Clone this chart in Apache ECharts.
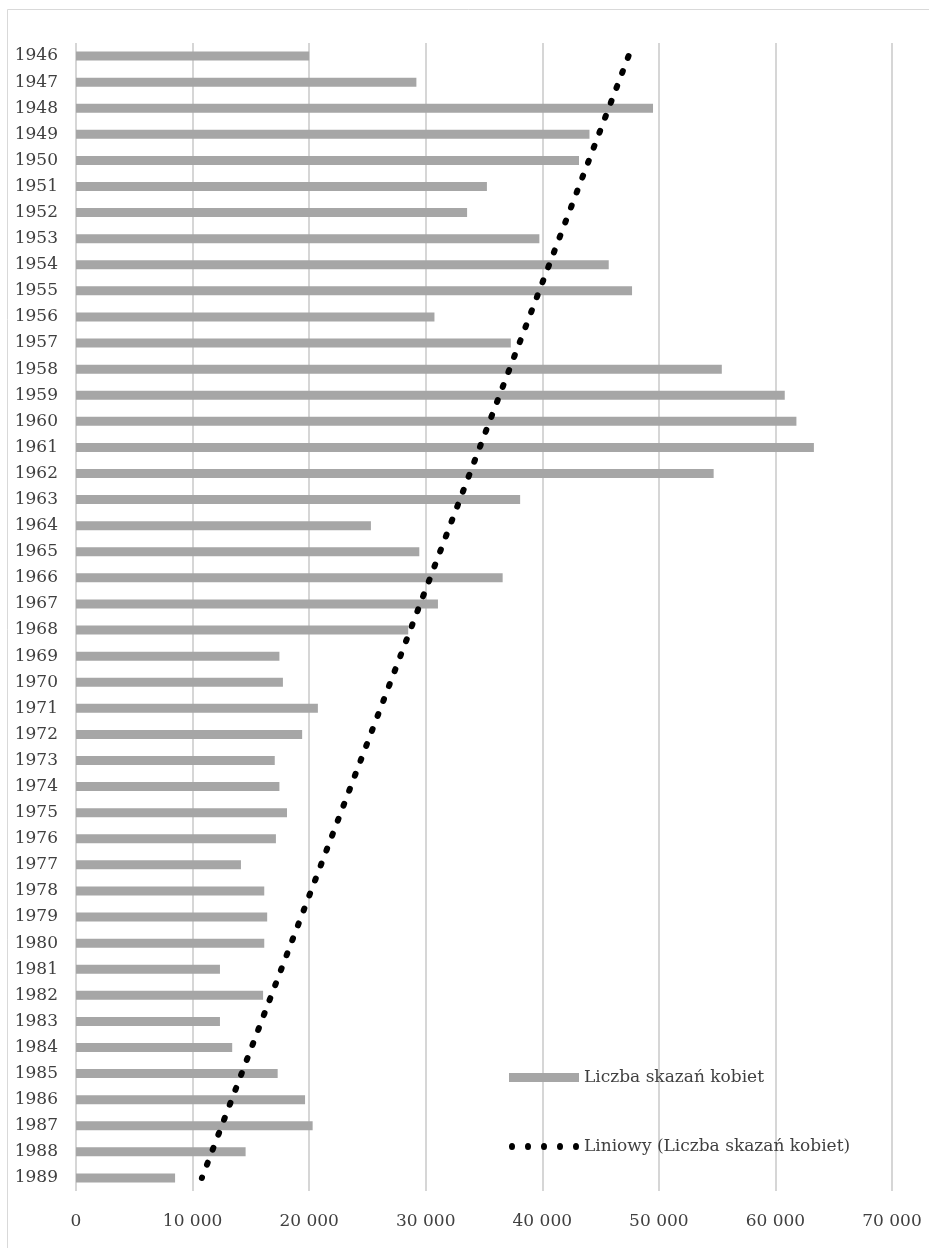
<!DOCTYPE html>
<html><head><meta charset="utf-8">
<script src="https://cdn.jsdelivr.net/npm/echarts@6/dist/echarts.min.js"></script>
<style>html,body{margin:0;padding:0;background:#fff}#c{width:929px;height:1248px}</style>
</head><body><div id="c"></div>
<script>
const years = ['1946','1947','1948','1949','1950','1951','1952','1953','1954','1955','1956','1957','1958','1959','1960','1961','1962','1963','1964','1965','1966','1967','1968','1969','1970','1971','1972','1973','1974','1975','1976','1977','1978','1979','1980','1981','1982','1983','1984','1985','1986','1987','1988','1989'];
const convictions = [20000,29200,49500,44050,43150,35250,33550,39750,45700,47700,30750,37300,55400,60800,61800,63300,54700,38100,25300,29450,36600,31050,28500,17450,17750,20750,19400,17050,17450,18100,17150,14150,16150,16400,16150,12350,16050,12350,13400,17300,19650,20300,14550,8500];
const trendYears = ['1946','1989'];
const trendValues = [47400,10800];
const xTicks = [0,10000,20000,30000,40000,50000,60000,70000];
const seriesNames = ['Liczba skazań kobiet','Liniowy (Liczba skazań kobiet)'];

const FONT = 'DejaVu Serif';
const TXT = '#404040';
const trendData = years.map(y => { const i = trendYears.indexOf(y); return i >= 0 ? trendValues[i] : null; });
const fmt = v => String(v).replace(/\B(?=(\d{3})+(?!\d))/g, ' ');

// legend icons (box 70 x 9)
function ell(cx, cy, rx, ry) {
  return 'M' + (cx - rx) + ' ' + cy + ' A' + rx + ' ' + ry + ' 0 1 0 ' + (cx + rx) + ' ' + cy +
         ' A' + rx + ' ' + ry + ' 0 1 0 ' + (cx - rx) + ' ' + cy + ' Z ';
}
const barIcon = 'path://M0 0 L70 0 L70 9 L0 9 Z';
let dotPath = 'M0 0 L0.01 0 L0.01 0.01 Z M70 9 L69.99 9 L69.99 8.99 Z ';
[3, 19, 35, 51, 67].forEach(cx => { dotPath += ell(cx, 4.5, 3, 3.6); });
const dotIcon = 'path://' + dotPath;

const chart = echarts.init(document.getElementById('c'), null, {renderer:'canvas'});
chart.setOption({
  animation: false,
  backgroundColor: '#fff',
  graphic: [{
    type: 'rect', silent: true, z: -1,
    shape: {x: 7.5, y: 9.5, width: 940, height: 1260},
    style: {fill: 'none', stroke: '#d9d9d9', lineWidth: 1}
  }],
  grid: {left: 76, right: 37, top: 43, bottom: 57, containLabel: false},
  legend: {
    orient: 'vertical', left: 504, top: 1064, itemGap: 52,
    itemWidth: 70, itemHeight: 9,
    textStyle: {fontFamily: FONT, fontSize: 17, color: TXT},
    data: [
      {name: seriesNames[0], icon: barIcon, itemStyle: {color: '#a6a6a6', borderWidth: 0}},
      {name: seriesNames[1], icon: dotIcon, itemStyle: {color: '#000', borderWidth: 0}, lineStyle: {width: 0}}
    ]
  },
  xAxis: {
    type: 'value', min: xTicks[0], max: xTicks[xTicks.length-1], interval: xTicks[1]-xTicks[0],
    axisLine: {show: false}, axisTick: {show: false},
    axisLabel: {margin: 22, fontFamily: FONT, fontSize: 17, color: TXT, formatter: fmt},
    splitLine: {show: true, lineStyle: {color: '#c9c9c9', width: 1.5}}
  },
  yAxis: {
    type: 'category', data: years, inverse: true,
    axisLine: {show: false}, axisTick: {show: false},
    axisLabel: {margin: 18, fontFamily: FONT, fontSize: 17, color: TXT, interval: 0},
    splitLine: {show: false}
  },
  series: [
    {name: seriesNames[0], type: 'bar', data: convictions, barWidth: 9,
     itemStyle: {color: '#a6a6a6'}},
    {name: seriesNames[1], type: 'line', data: trendData, connectNulls: true,
     symbol: 'none', z: 5,
     lineStyle: {color: '#000', width: 6, type: [2, 14], cap: 'round'},
     itemStyle: {color: '#000'}}
  ]
});
</script></body></html>
